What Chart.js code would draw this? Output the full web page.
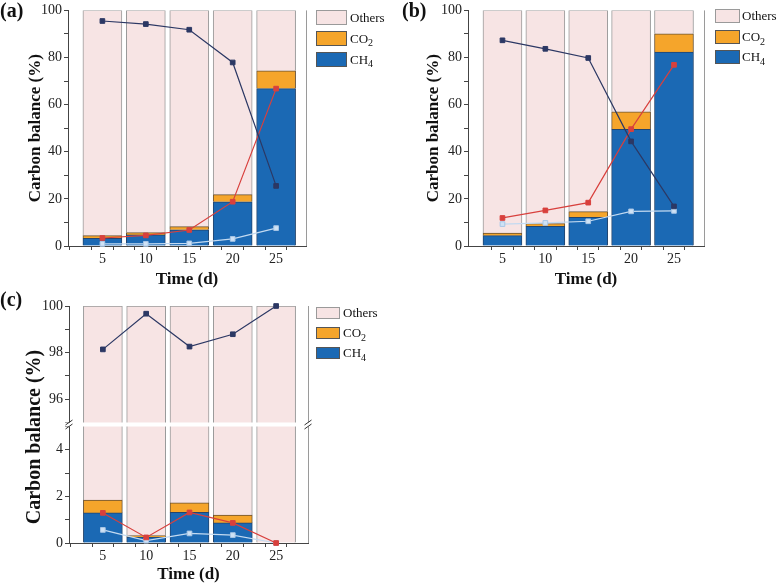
<!DOCTYPE html>
<html>
<head>
<meta charset="utf-8">
<script src="https://cdn.jsdelivr.net/npm/chart.js@4.4.1/dist/chart.umd.min.js"></script>
<style>
  body { margin: 0; background: #fff; width: 779px; height: 588px; position: relative; overflow: hidden; }
  canvas { position: absolute; }
</style>
</head>
<body>
<canvas id="chartA" width="390" height="290" style="left:0;top:0"></canvas>
<canvas id="chartB" width="389" height="290" style="left:390px;top:0"></canvas>
<canvas id="chartC" width="390" height="298" style="left:0;top:290px"></canvas>
<script>
// sampling days (x axis) and labelled ticks
const days = [5, 10, 15, 20, 25];
const yLabelsFull = [0, 20, 40, 60, 80, 100];
const yLabelsLow = [0, 2, 4];
const yLabelsHigh = [96, 98, 100];
const legendLabels = [['Others', ''], ['CO', '2'], ['CH', '4']];

// panel (a)
const ch4A = [3.3, 4.7, 6.9, 18.8, 66.8];
const co2A = [1.1, 1.0, 1.3, 3.0, 7.6];
const navyA = [95.5, 94.2, 91.8, 77.9, 25.5];
const redA = [3.4, 4.5, 6.8, 18.8, 66.8];
const blueA = [0.9, 0.9, 1.1, 3.0, 7.6];

// panel (b)
const ch4B = [4.4, 8.3, 12.2, 49.5, 82.3];
const co2B = [1.1, 1.2, 2.4, 7.5, 7.8];
const navyB = [87.3, 83.7, 79.8, 44.4, 16.8];
const redB = [11.9, 15.1, 18.4, 49.6, 76.9];
const blueB = [9.3, 9.8, 10.5, 14.7, 14.9];

// panel (c)
const ch4C = [1.29, 0.25, 1.31, 0.86, 0];
const co2C = [0.55, 0.07, 0.41, 0.34, 0];
const navyC = [98.14, 99.67, 98.26, 98.79, 100];
const redC = [1.29, 0.24, 1.31, 0.86, 0];
const blueC = [0.56, 0.1, 0.41, 0.34, 0];

const SERIF = '"Liberation Serif", "Times New Roman", serif';
const tickFont = { family: SERIF, size: 14 };
const titleFont = { family: SERIF, size: 17, weight: 'bold' };
const boxColors = [['#f7e4e4', '#9a9a9a'], ['#f5a52b', '#6b5232'], ['#1b69b4', '#23456e']];

const pts = arr => days.map((d, i) => ({ x: d, y: arr[i] }));

// legend, panel letter, right frame, axis break
const panelDeco = {
  id: 'panelDeco',
  afterDraw(chart, args, o) {
    const { ctx, chartArea: a } = chart;
    ctx.save();
    ctx.strokeStyle = '#9a9a9a';
    ctx.lineWidth = 1;
    ctx.beginPath();
    ctx.moveTo(a.right + 0.5, a.top);
    ctx.lineTo(a.right + 0.5, a.bottom);
    ctx.stroke();

    if (o.brk) {
      const yb = chart.scales.y.top;
      ctx.fillStyle = '#fff';
      ctx.fillRect(a.left - 4, yb - 2, a.right - a.left + 8, 4);
      ctx.strokeStyle = '#333';
      [a.left, a.right].forEach(x => {
        [-2, 2].forEach(dy => {
          ctx.beginPath();
          ctx.moveTo(x - 3.5, yb + dy + 2.5);
          ctx.lineTo(x + 3.5, yb + dy - 2.5);
          ctx.stroke();
        });
      });
      ctx.save();
      ctx.translate(o.yTitleX, o.yTitleY);
      ctx.rotate(-Math.PI / 2);
      ctx.fillStyle = '#111';
      ctx.font = 'bold 20px ' + SERIF;
      ctx.textAlign = 'center';
      ctx.textBaseline = 'middle';
      ctx.fillText('Carbon balance (%)', 0, 0);
      ctx.restore();
    }

    ctx.fillStyle = '#111';
    ctx.font = 'bold 20px ' + SERIF;
    ctx.textAlign = 'left';
    ctx.textBaseline = 'alphabetic';
    ctx.fillText(o.letter, o.letterX, o.letterY);

    const lg = o.legend;
    legendLabels.forEach((lab, i) => {
      const y = lg.tops[i];
      ctx.fillStyle = boxColors[i][0];
      ctx.fillRect(lg.x, y, lg.w, lg.h);
      ctx.strokeStyle = i === 0 ? '#9a9a9a' : '#555';
      ctx.strokeRect(lg.x + 0.5, y + 0.5, lg.w - 1, lg.h - 1);
      ctx.fillStyle = '#111';
      ctx.font = '13px ' + SERIF;
      ctx.textBaseline = 'middle';
      const cy = y + lg.h / 2 + 1;
      ctx.fillText(lab[0], lg.tx, cy);
      if (lab[1]) {
        const w = ctx.measureText(lab[0]).width;
        ctx.font = '10px ' + SERIF;
        ctx.fillText(lab[1], lg.tx + w, cy + 4);
      }
    });
    ctx.restore();
  }
};

function yAxis(p, extra) {
  return Object.assign({
    type: 'linear', position: 'left', stacked: true,
    ticks: { autoSkip: false, font: tickFont, color: '#222', padding: 2 },
    grid: { drawOnChartArea: false, tickLength: 4, tickColor: '#444' },
    border: { color: '#444', width: 1 },
    afterFit(s) { s.width = p.left; }
  }, extra);
}

function makePanel(id, p) {
  const others = days.map((d, i) => 100 - p.ch4[i] - p.co2[i]);
  const barSets = [
    { label: 'CH4', data: pts(p.ch4), backgroundColor: boxColors[2][0], borderColor: boxColors[2][1] },
    { label: 'CO2', data: pts(p.co2), backgroundColor: boxColors[1][0], borderColor: boxColors[1][1] },
    { label: 'Others', data: pts(others), backgroundColor: boxColors[0][0], borderColor: boxColors[0][1] }
  ].map(d => Object.assign(d, { type: 'bar', stack: 'bal', yAxisID: 'y', borderWidth: 1, barThickness: 39, order: 2 }));
  if (p.brk) {
    // same bars seen through the upper segment of the broken axis
    const totals = days.map((d, i) => p.ch4[i] + p.co2[i] + others[i]);
    barSets.push({ type: 'bar', label: 'Others (upper)', data: pts(totals), stack: 'bal', yAxisID: 'y2',
      backgroundColor: boxColors[0][0], borderColor: boxColors[0][1], borderWidth: 1, barThickness: 39, order: 2 });
  }

  const line = (label, vals, color, fill, axis, key) => ({
    type: 'line', label, data: pts(vals), yAxisID: axis, stack: key, order: 0,
    borderColor: color, borderWidth: 1.2, pointStyle: 'rect', pointRadius: 3.3,
    pointBackgroundColor: fill, pointBorderColor: fill, pointBorderWidth: 1, clip: 6
  });
  const lineSets = [
    line('Others', p.navy, '#2c3864', '#2c3864', p.brk ? 'y2' : 'y', 'l1'),
    line('CH4 yield', p.red, '#d8403d', '#d8403d', 'y', 'l2'),
    line('CO2 yield', p.blue, '#c3daf1', '#cfe2f5', 'y', 'l3')
  ];
  lineSets[2].pointBorderColor = '#a8c6e6';

  const scales = {
    x: {
      type: 'linear', min: p.xMin, max: p.xMax, stacked: true,
      ticks: { stepSize: 2.5, includeBounds: false, autoSkip: false, maxRotation: 0, font: tickFont, color: '#222', padding: 1,
        callback: v => days.includes(v) ? String(v) : '' },
      grid: { drawOnChartArea: false, tickLength: 4, tickColor: '#444' },
      border: { color: '#444', width: 1 },
      title: { display: true, text: 'Time (d)', font: titleFont, color: '#111', padding: { top: 0, bottom: p.xTitlePad } },
      afterFit(s) { s.height = p.xAxisH; }
    }
  };
  if (p.brk) {
    scales.y = yAxis(p, { stack: 'brk', stackWeight: 1, min: 0, max: 5.08 });
    scales.y.ticks = Object.assign({}, scales.y.ticks, { stepSize: 1, includeBounds: false,
      callback: v => yLabelsLow.includes(v) ? String(v) : '' });
    scales.y2 = yAxis(p, { stack: 'brk', stackWeight: 1, stacked: false, min: 94.92, max: 100 });
    scales.y2.ticks = Object.assign({}, scales.y2.ticks, { stepSize: 1, includeBounds: false,
      callback: v => yLabelsHigh.includes(v) ? String(v) : '' });
  } else {
    scales.y = yAxis(p, { min: 0, max: 100,
      title: { display: true, text: 'Carbon balance (%)', font: titleFont, color: '#111', padding: { top: p.yTitlePad, bottom: 0 } } });
    scales.y.ticks = Object.assign({}, scales.y.ticks, { stepSize: 10,
      callback: v => yLabelsFull.includes(v) ? String(v) : '' });
  }

  new Chart(document.getElementById(id), {
    data: { datasets: barSets.concat(lineSets) },
    options: {
      responsive: false, animation: false, devicePixelRatio: 1,
      layout: { padding: { left: 0, right: p.padRight, top: p.top, bottom: 0 } },
      scales,
      plugins: {
        legend: { display: false }, tooltip: { enabled: false },
        panelDeco: p.deco
      }
    },
    plugins: [panelDeco]
  });
}

makePanel('chartA', {
  ch4: ch4A, co2: co2A, navy: navyA, red: redA, blue: blueA,
  xMin: 2.41, xMax: 27.07, left: 68, padRight: 84, top: 10, xAxisH: 44, xTitlePad: 0, yTitlePad: 25,
  deco: { letter: '(a)', letterX: 0, letterY: 17, legend: { x: 316, w: 31, h: 15, tops: [10, 31, 52], tx: 350 } }
});
makePanel('chartB', {
  ch4: ch4B, co2: co2B, navy: navyB, red: redB, blue: blueB,
  xMin: 2.51, xMax: 26.97, left: 78, padRight: 75, top: 10, xAxisH: 44, xTitlePad: 0, yTitlePad: 33,
  deco: { letter: '(b)', letterX: 12, letterY: 17, legend: { x: 325, w: 25, h: 14, tops: [9, 30, 50], tx: 352 } }
});
makePanel('chartC', {
  ch4: ch4C, co2: co2C, navy: navyC, red: redC, blue: blueC, brk: true,
  xMin: 2.47, xMax: 27.3, left: 69, padRight: 82, top: 16, xAxisH: 45, xTitlePad: 3,
  deco: { letter: '(c)', letterX: 0, letterY: 16, brk: true, yTitleX: 35, yTitleY: 147,
    legend: { x: 316, w: 24, h: 12, tops: [17, 37, 57], tx: 343 } }
});
</script>
</body>
</html>
